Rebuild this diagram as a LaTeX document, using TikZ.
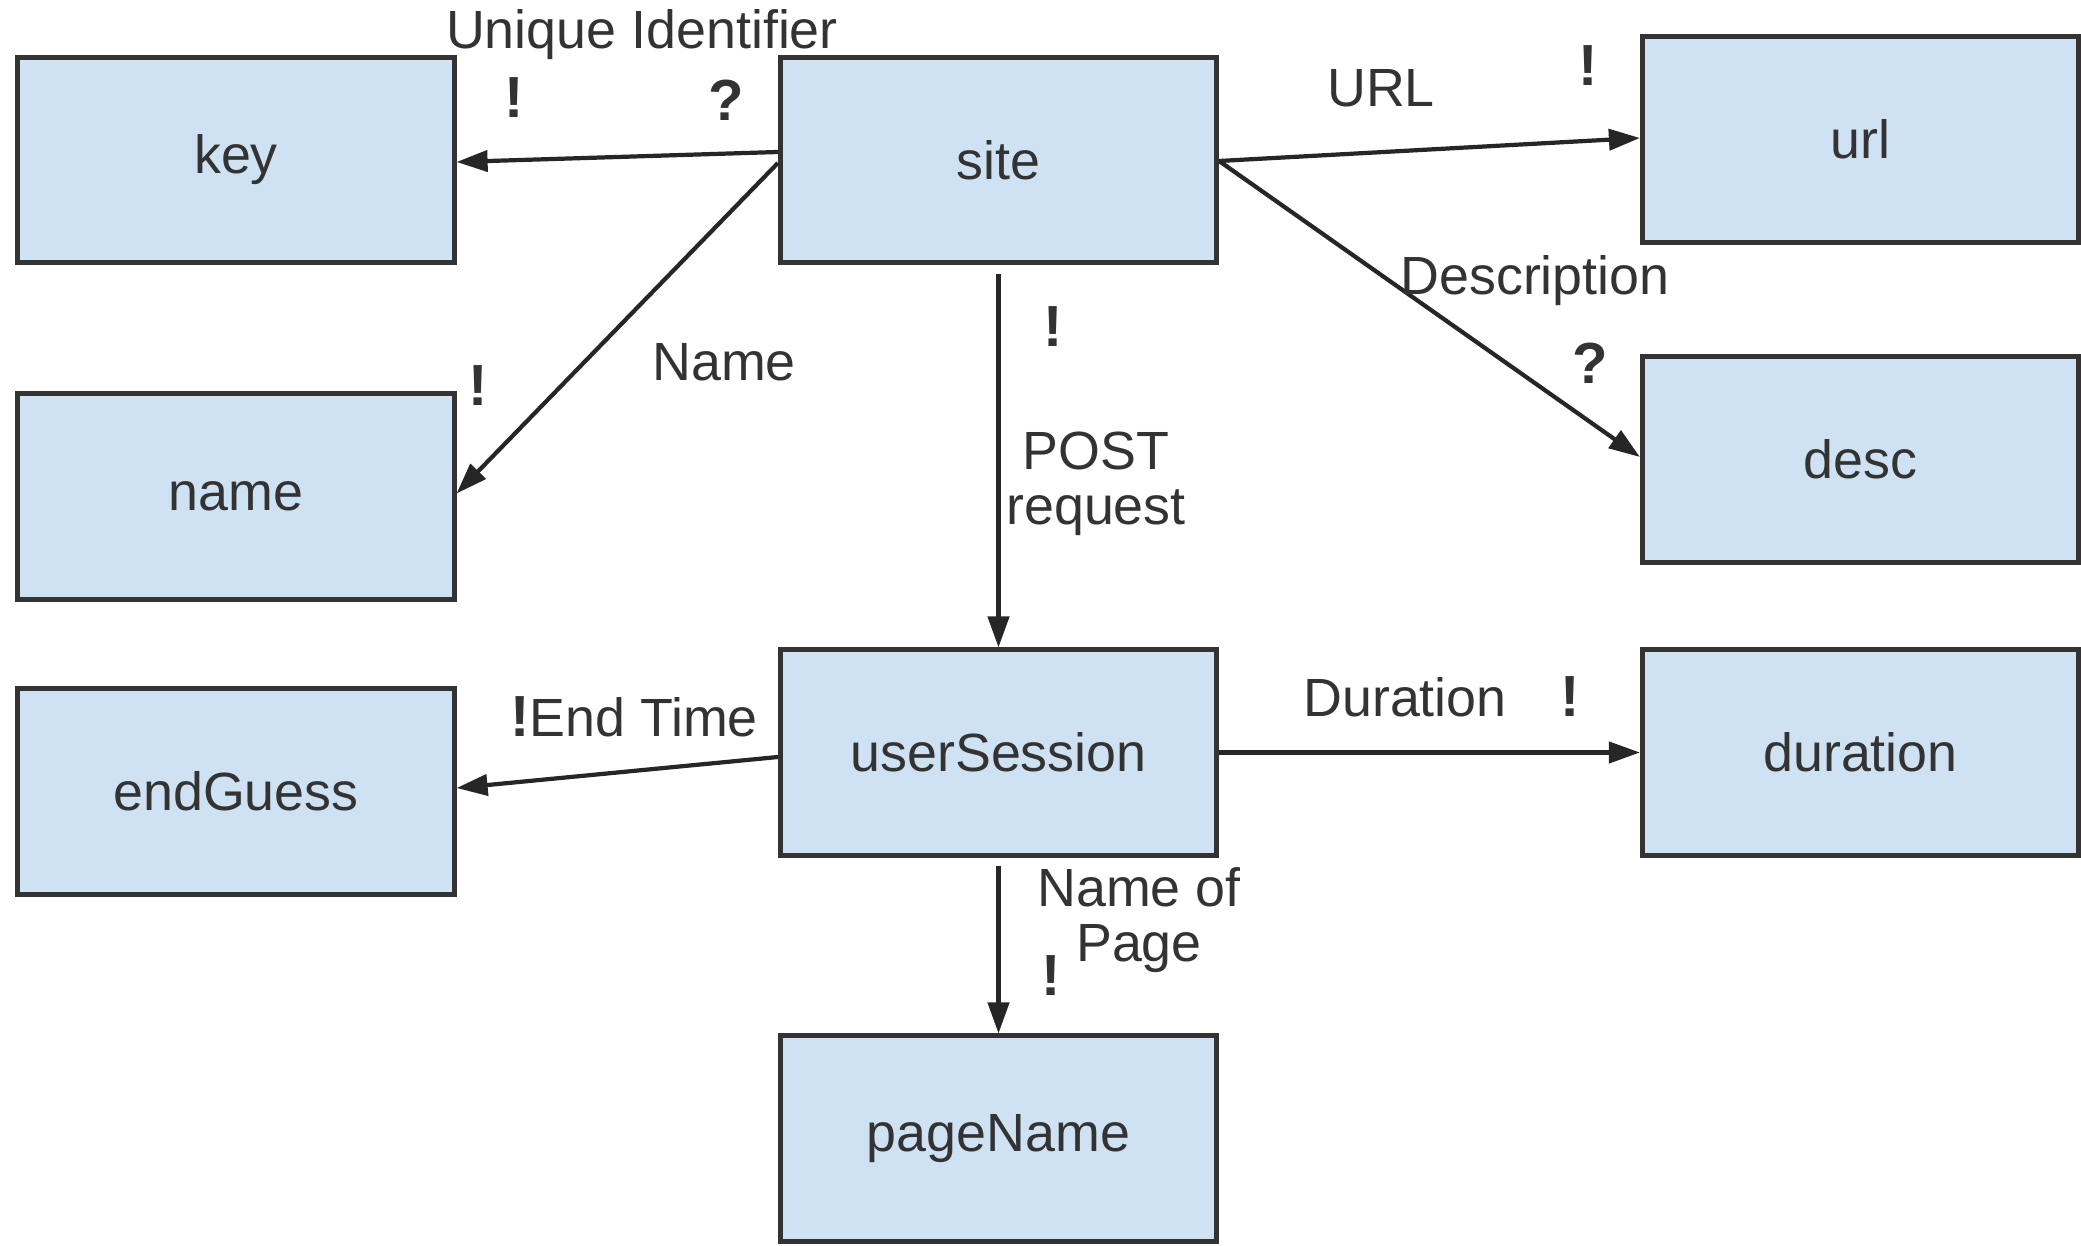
\documentclass[tikz,border=0pt]{standalone}
\usepackage{fontspec}
\setmainfont{Liberation Sans}
\usetikzlibrary{arrows.meta,calc}
\definecolor{boxfill}{HTML}{CFE2F3}
\definecolor{ink}{HTML}{333333}
\definecolor{wire}{HTML}{262626}
\newcommand\dgfont{\fontsize{15.3pt}{15.8pt}\selectfont}
\newcommand\flagfont{\fontsize{16.5pt}{17pt}\selectfont\bfseries}
\begin{document}
\begin{tikzpicture}[x=0.01cm,y=-0.01cm,
  entity/.style={draw=ink, fill=boxfill, line width=1.4pt,
    minimum width=4.36cm, minimum height=2.05cm, inner sep=0pt,
    text=ink, font=\dgfont},
  link/.style={draw=wire, line width=1.2pt,
    -{Triangle[length=3.1mm,width=2.1mm]}},
  tag/.style={inner sep=0pt, text=ink, font=\dgfont, align=center},
  flag/.style={inner sep=0pt, text=ink, font=\flagfont}]
\useasboundingbox (0,0) rectangle (2081,1246);

% entities
\node[entity] (key)         at (236,160)    {key};
\node[entity] (site)        at (998.5,160)  {site};
\node[entity] (url)         at (1860.5,139.5) {url};
\node[entity] (name)        at (236,496.5)  {name};
\node[entity] (desc)        at (1860.5,459.5) {desc};
\node[entity] (endGuess)    at (236,791.5)  {endGuess};
\node[entity] (userSession) at (998.5,752.5) {userSession};
\node[entity] (duration)    at (1860.5,752.5) {duration};
\node[entity] (pageName)    at (998.5,1138.5) {pageName};

% relations
\draw[link] ($(site.west)+(0,-8)$) -- ($(key.east)+(0,2)$);
\draw[link] ($(site.west)+(0,3)$) -- ($(name.east)+(0,-3)$);
\draw[link] ($(site.east)+(0,1)$) -- ($(url.west)+(0,-1.5)$);
\draw[link] ($(site.east)+(0,1)$) -- ($(desc.west)+(0,-2.5)$);
\draw[link] ($(site.south)+(0,9)$) -- (userSession.north);
\draw[link] ($(userSession.west)+(0,4.5)$) -- ($(endGuess.east)+(0,-3.5)$);
\draw[link] (userSession.east) -- (duration.west);
\draw[link] ($(userSession.south)+(0,8)$) -- (pageName.north);

% relation labels
\node[tag] (lbKey)  at (642,35)   {Unique Identifier};
\node[tag] (lbUrl)  at (1381,88)  {URL};
\node[tag] (lbDesc) at (1535,281) {Description};
\node[tag] (lbName) at (724,362)  {Name};
\node[tag] (lbPost) at (1096,484) {POST\\request};
\node[tag] (lbEnd)  at (634,717)  {{\flagfont !}End Time};
\node[tag] (lbDur)  at (1405,697) {Duration};
\node[tag] (lbPage) at (1139,920) {Name of\\Page};

% cardinality marks
\node[flag] (fKey1)  at (514,98)   {!};
\node[flag] (fKey2)  at (726,100)  {?};
\node[flag] (fUrl)   at (1588,66)  {!};
\node[flag] (fDesc)  at (1590,363) {?};
\node[flag] (fName)  at (478,386)  {!};
\node[flag] (fPost)  at (1053,327) {!};
\node[flag] (fDur)   at (1570,697) {!};
\node[flag] (fPage)  at (1051,976) {!};
\end{tikzpicture}
\end{document}
